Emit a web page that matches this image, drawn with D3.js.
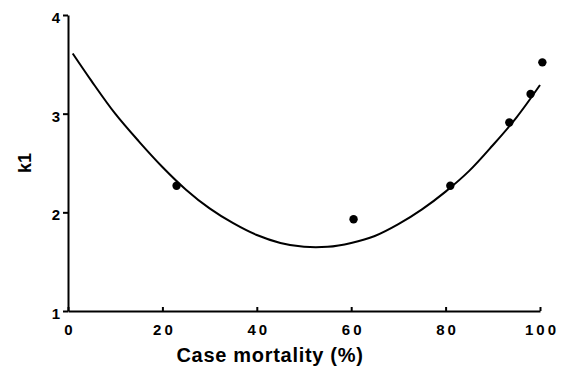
<!DOCTYPE html>
<html>
<head>
<meta charset="utf-8">
<script src="https://cdn.jsdelivr.net/npm/d3@7"></script>
<style>
  body { margin: 0; background: #fff; }
  svg { display: block; font-family: "Liberation Sans", Arial, sans-serif; }
  .axis path, .axis line { stroke: #000; stroke-width: 2; }
  .axis text { font-size: 15px; font-weight: bold; fill: #000; }
</style>
</head>
<body>
<script>
// Measured points (case mortality %, k1)
var mortality = [23, 60.5, 81, 93.5, 98, 100.5];
var k1 = [2.27, 1.93, 2.27, 2.91, 3.20, 3.52];

// Fitted curve
var fitX = [1, 5, 10, 15, 20, 25, 30, 35, 40, 45, 50, 55, 60, 65, 70, 75, 80, 85, 90, 95, 100];
var fitY = [3.61, 3.33, 3.0, 2.72, 2.46, 2.23, 2.04, 1.89, 1.77, 1.69, 1.65, 1.65, 1.69, 1.76, 1.88, 2.03, 2.21, 2.42, 2.68, 2.96, 3.29];

var xTicks = [0, 20, 40, 60, 80, 100];
var yTicks = [1, 2, 3, 4];

var svgWidth = 568;
var svgHeight = 367;
var margin = { top: 15, right: 28, bottom: 56, left: 68 };
var chartWidth = svgWidth - margin.left - margin.right;
var chartHeight = svgHeight - margin.top - margin.bottom;

var svg = d3.select("body")
  .append("svg")
  .attr("width", svgWidth)
  .attr("height", svgHeight);

var chartGroup = svg.append("g")
  .attr("transform", `translate(${margin.left}, ${margin.top})`);

var xScale = d3.scaleLinear().domain([0, 100]).range([0, chartWidth]);
var yScale = d3.scaleLinear().domain([1, 4]).range([chartHeight, 0]);

// Bottom axis, ticks pointing up into the plot
var bottomAxis = d3.axisBottom(xScale)
  .tickValues(xTicks)
  .tickSizeInner(-4)
  .tickSizeOuter(0)
  .tickPadding(13);

var leftAxis = d3.axisLeft(yScale)
  .tickValues(yTicks)
  .tickSizeInner(5)
  .tickSizeOuter(0)
  .tickPadding(3)
  .tickFormat(d3.format("d"));

var xg = chartGroup.append("g")
  .classed("axis", true)
  .attr("transform", "translate(0, " + chartHeight + ")")
  .call(bottomAxis);
xg.selectAll("text").style("letter-spacing", "3px").attr("dx", "1.5px");

var yg = chartGroup.append("g")
  .classed("axis", true)
  .call(leftAxis);
yg.selectAll("text").attr("dy", "0.5em");

// Fitted curve
var drawLine = d3.line()
  .x(function(d, i) { return xScale(fitX[i]); })
  .y(function(d) { return yScale(d); })
  .curve(d3.curveCatmullRom);

chartGroup.append("path")
  .attr("d", drawLine(fitY))
  .attr("fill", "none")
  .attr("stroke", "#000")
  .attr("stroke-width", 2);

// Data points
chartGroup.selectAll("circle")
  .data(mortality)
  .enter()
  .append("circle")
  .attr("cx", function(d) { return xScale(d); })
  .attr("cy", function(d, i) { return yScale(k1[i]); })
  .attr("r", 4.2)
  .attr("fill", "#000");

// Axis titles
svg.append("text")
  .attr("text-anchor", "middle")
  .attr("x", 270)
  .attr("y", 362)
  .style("font-size", "20px")
  .style("font-weight", "bold")
  .style("letter-spacing", "0.7px")
  .text("Case mortality (%)");

svg.append("text")
  .attr("text-anchor", "middle")
  .attr("transform", "translate(31, 163) rotate(-90)")
  .style("font-size", "18px")
  .style("font-weight", "bold")
  .text("k1");
</script>
</body>
</html>
